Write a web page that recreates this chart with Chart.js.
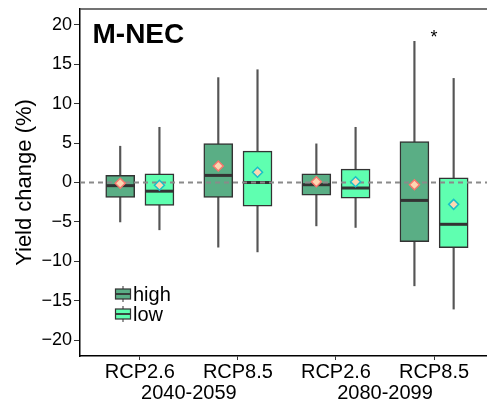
<!DOCTYPE html>
<html><head><meta charset="utf-8">
<script src="https://cdn.jsdelivr.net/npm/chart.js@4.4.0/dist/chart.umd.min.js"></script>
<style>html,body{margin:0;padding:0;background:#fff;}canvas{display:block;}</style>
</head><body>
<canvas id="c" width="487" height="407"></canvas>
<script>
// ---- data ----
const panelTitle = 'M-NEC';
const scenarios = ['RCP2.6', 'RCP8.5', 'RCP2.6', 'RCP8.5'];
const periods = ['2040-2059', '2080-2099'];
const groups = ['high', 'low'];
const yTicks = [-20, -15, -10, -5, 0, 5, 10, 15, 20];
const yTickLabels = ['\u221220', '\u221215', '\u221210', '\u22125', '0', '5', '10', '15', '20'];

const highWhiskerLow  = [-5.0, -8.2, -5.5, -13.1];
const highQ1          = [-1.9, -1.9, -1.6, -7.5];
const highMedian      = [-0.4, 0.9, -0.28, -2.27];
const highQ3          = [0.9, 4.95, 1.1, 5.2];
const highWhiskerHigh = [4.6, 13.3, 4.9, 17.9];
const highMean        = [-0.1, 2.1, 0.1, -0.28];

const lowWhiskerLow  = [-6.0, -8.8, -5.7, -16.05];
const lowQ1          = [-2.9, -3.0, -2.0, -8.25];
const lowMedian      = [-1.1, 0.0, -0.7, -5.3];
const lowQ3          = [1.1, 3.97, 1.7, 0.6];
const lowWhiskerHigh = [7.0, 14.3, 7.0, 13.2];
const lowMean        = [-0.35, 1.3, 0.1, -2.77];

const significance = [{ index: 3, y: 18.7, text: '*' }];

// ---- styling ----
const FONT = '"Liberation Sans", Arial, Helvetica, sans-serif';
Chart.defaults.font.family = FONT;
const DODGE = 0.2;
const highFill = '#5aae85', lowFill = '#5fffb0';
const meanFill = '#fcd7b2', highMeanBorder = '#f8766d', lowMeanBorder = '#19c0c8';
const boxBorder = '#333333', whiskerColor = '#555555';

const pos = (i, g) => i + 1 + (g === 0 ? -DODGE : DODGE);
const boxData = (q1, q3, g) => q1.map((v, i) => ({ x: pos(i, g), y: [v, q3[i]] }));
const meanData = (m, g) => m.map((v, i) => ({ x: pos(i, g), y: v }));

const boxCommon = {
  type: 'bar', borderColor: boxBorder, borderWidth: 1.5, borderSkipped: false,
  barThickness: 29, grouped: false, order: 1
};
const whiskerCommon = {
  type: 'bar', backgroundColor: whiskerColor, borderWidth: 0,
  barThickness: 1.5, grouped: false, order: 2
};
const meanCommon = {
  type: 'line', showLine: false, pointStyle: 'rectRot', pointRadius: 5,
  pointBorderWidth: 1.5, pointBackgroundColor: meanFill, order: 0
};

const datasets = [
  Object.assign({ label: 'high', data: boxData(highQ1, highQ3, 0), backgroundColor: highFill, medians: highMedian }, boxCommon),
  Object.assign({ label: 'low', data: boxData(lowQ1, lowQ3, 1), backgroundColor: lowFill, medians: lowMedian }, boxCommon),
  Object.assign({ label: 'high whisker', data: boxData(highWhiskerLow, highWhiskerHigh, 0) }, whiskerCommon),
  Object.assign({ label: 'low whisker', data: boxData(lowWhiskerLow, lowWhiskerHigh, 1) }, whiskerCommon),
  Object.assign({ label: 'high mean', data: meanData(highMean, 0), pointBorderColor: highMeanBorder }, meanCommon),
  Object.assign({ label: 'low mean', data: meanData(lowMean, 1), pointBorderColor: lowMeanBorder }, meanCommon)
];

let underlayDone = false;
const overlay = {
  id: 'overlay',
  beforeDraw() { underlayDone = false; },
  beforeDatasetDraw(chart, args) {
    if (underlayDone || chart.data.datasets[args.index].type !== 'line') return;
    underlayDone = true;
    const ctx = chart.ctx, ys = chart.scales.y, ca = chart.chartArea;
    ctx.save();
    [0, 1].forEach(di => {
      const meta = chart.getDatasetMeta(di);
      const med = chart.data.datasets[di].medians;
      meta.data.forEach((bar, i) => {
        const y = ys.getPixelForValue(med[i]);
        ctx.strokeStyle = boxBorder; ctx.lineWidth = 3;
        ctx.beginPath();
        ctx.moveTo(bar.x - bar.width / 2 + 0.5, y); ctx.lineTo(bar.x + bar.width / 2 - 0.5, y);
        ctx.stroke();
      });
    });
    const y0 = ys.getPixelForValue(0);
    ctx.strokeStyle = '#8a8a8a'; ctx.lineWidth = 1.8; ctx.setLineDash([5, 4]);
    ctx.beginPath(); ctx.moveTo(ca.left, y0); ctx.lineTo(ca.right, y0); ctx.stroke();
    ctx.restore();
  },
  afterDraw(chart) {
    const ctx = chart.ctx, ca = chart.chartArea, xs = chart.scales.x, ys = chart.scales.y;
    ctx.save();
    ctx.strokeStyle = '#444'; ctx.lineWidth = 1.5;
    ctx.beginPath(); ctx.moveTo(ca.left, ca.top); ctx.lineTo(ca.right, ca.top); ctx.stroke();
    ctx.fillStyle = '#000'; ctx.font = 'bold 28px ' + FONT;
    ctx.textAlign = 'left'; ctx.textBaseline = 'alphabetic';
    ctx.fillText(panelTitle, ca.left + 12.5, ca.top + 33.5);
    ctx.font = '18px ' + FONT; ctx.textAlign = 'center'; ctx.textBaseline = 'middle';
    significance.forEach(s => ctx.fillText(s.text, xs.getPixelForValue(s.index + 1), ys.getPixelForValue(s.y) + 3));
    const fills = [highFill, lowFill];
    groups.forEach((g, k) => {
      const cx = ca.left + 43, cy = ca.bottom - 62 + k * 20;
      ctx.strokeStyle = whiskerColor; ctx.lineWidth = 1.2;
      ctx.beginPath(); ctx.moveTo(cx, cy - 8); ctx.lineTo(cx, cy + 8); ctx.stroke();
      ctx.fillStyle = fills[k]; ctx.fillRect(cx - 7.5, cy - 5, 15, 10);
      ctx.strokeStyle = boxBorder; ctx.lineWidth = 1.2; ctx.strokeRect(cx - 7.5, cy - 5, 15, 10);
      ctx.lineWidth = 1.8; ctx.beginPath(); ctx.moveTo(cx - 7.5, cy); ctx.lineTo(cx + 7.5, cy); ctx.stroke();
      ctx.fillStyle = '#000'; ctx.font = '20px ' + FONT; ctx.textAlign = 'left'; ctx.textBaseline = 'middle';
      ctx.fillText(g, cx + 10, cy + 1);
    });
    ctx.restore();
  }
};

const XMIN = 0.39, XMAX = 4.54;
new Chart(document.getElementById('c'), {
  type: 'bar',
  data: { datasets },
  plugins: [overlay],
  options: {
    responsive: false, animation: false,
    layout: { autoPadding: false, padding: { top: 9, right: 0, left: 0, bottom: 0 } },
    plugins: { legend: { display: false }, tooltip: { enabled: false } },
    scales: {
      x: {
        type: 'linear', position: 'bottom', min: XMIN, max: XMAX, offset: false,
        afterBuildTicks: s => { s.ticks = scenarios.map((_, i) => ({ value: i + 1 })); },
        ticks: { callback: (v, i) => scenarios[i], font: { size: 20 }, color: '#000', padding: 0, maxRotation: 0, autoSkip: false },
        grid: { offset: false, drawOnChartArea: false, drawTicks: true, tickLength: 4, color: '#333', lineWidth: 1 },
        border: { display: true, color: '#000', width: 1.5 },
        afterFit: s => { s.height = 25; s.paddingLeft = 0; s.paddingRight = 0; }
      },
      x2: {
        type: 'linear', position: 'bottom', min: XMIN, max: XMAX, offset: false,
        afterBuildTicks: s => { s.ticks = periods.map((_, i) => ({ value: 2 * i + 1.5 })); },
        ticks: { callback: (v, i) => periods[i], font: { size: 20 }, color: '#000', padding: 0, maxRotation: 0, autoSkip: false },
        grid: { offset: false, display: false, drawTicks: false },
        border: { display: false },
        afterFit: s => { s.height = 26; s.paddingLeft = 0; s.paddingRight = 0; }
      },
      y: {
        type: 'linear', min: -22, max: 22,
        afterBuildTicks: s => { s.ticks = yTicks.map(v => ({ value: v })); },
        ticks: { callback: (v, i) => yTickLabels[i], font: { size: 18 }, color: '#000', padding: 2 },
        grid: { drawOnChartArea: false, drawTicks: true, tickLength: 6, color: '#333', lineWidth: 1 },
        border: { display: true, color: '#000', width: 1.5 },
        title: { display: true, text: 'Yield change (%)', font: { size: 22 }, color: '#000', padding: { top: 12, bottom: 0 } },
        afterFit: s => { s.width = 80; s.paddingTop = 0; s.paddingBottom = 0; }
      }
    }
  }
});
</script>
</body></html>
